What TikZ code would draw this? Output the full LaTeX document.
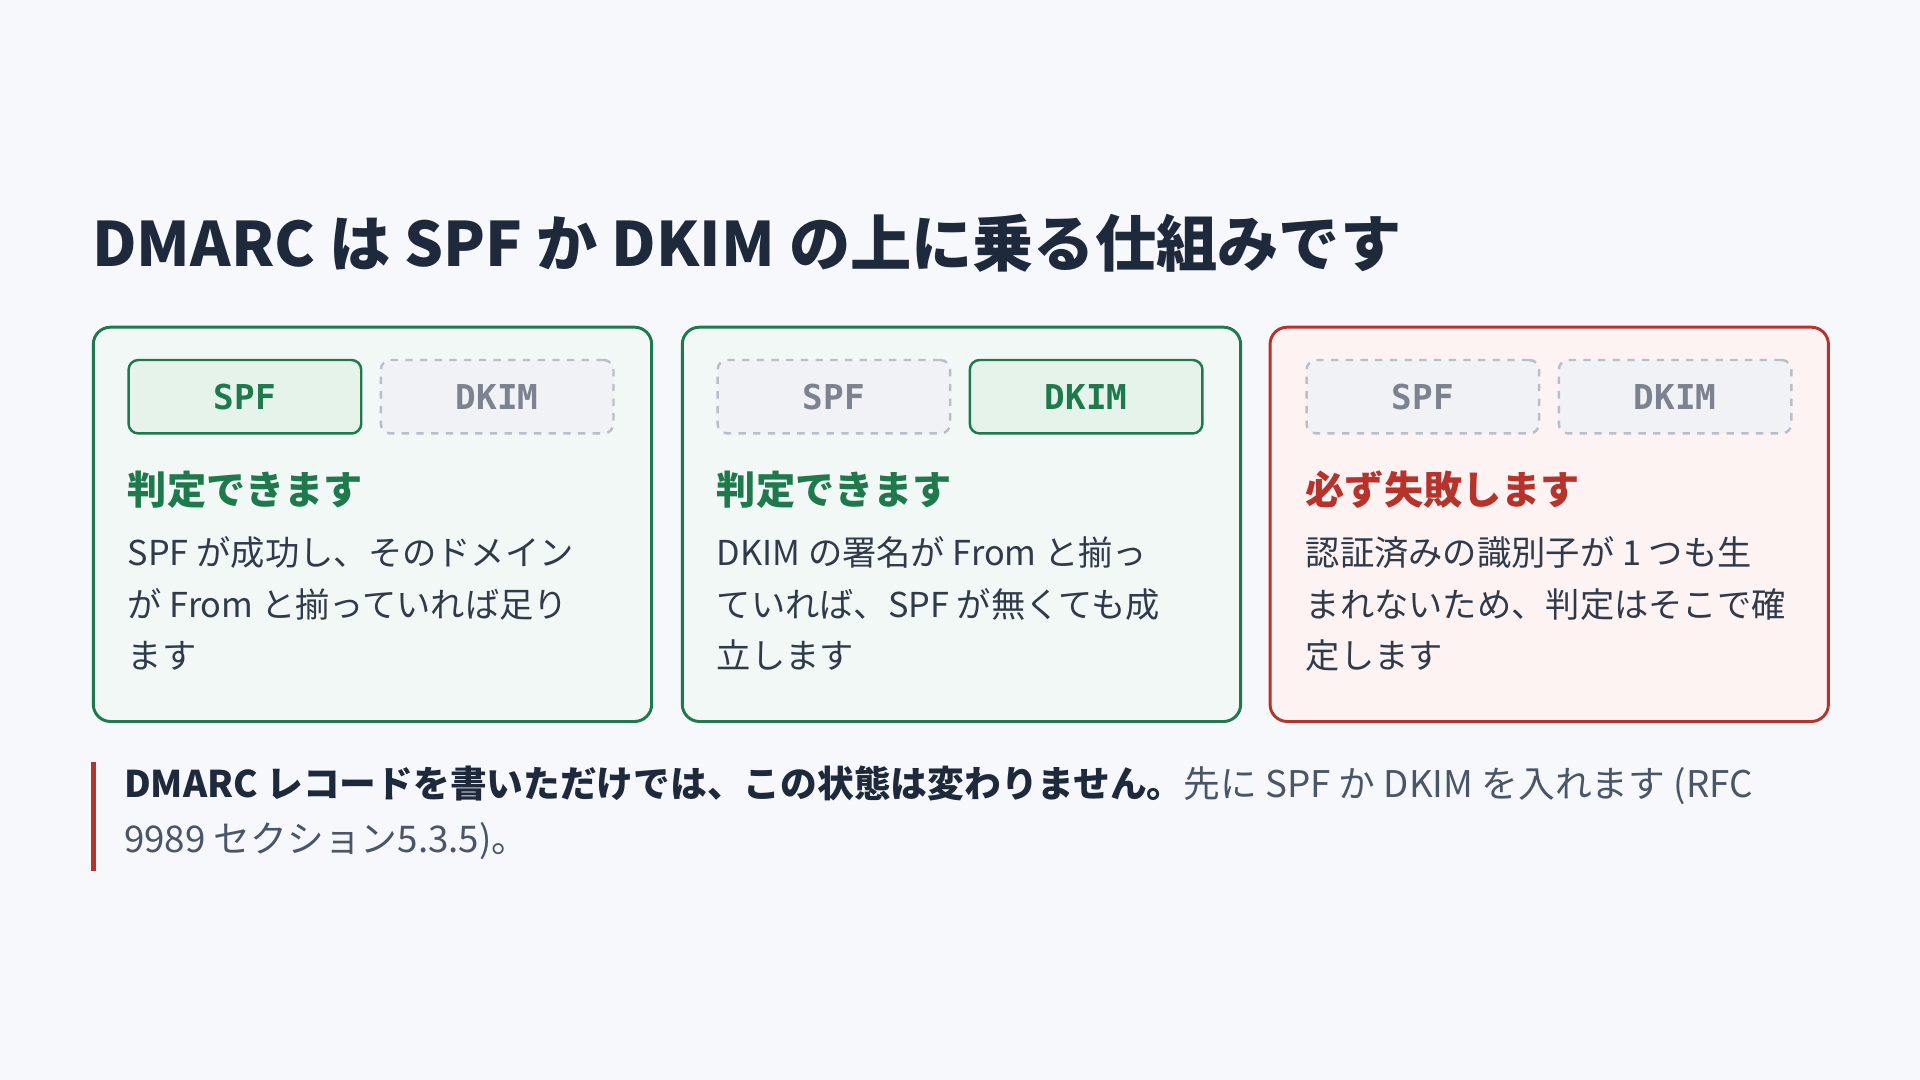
\documentclass[tikz,border=0pt]{standalone}
\usepackage{fontspec}
\setmainfont{Noto Sans CJK JP}
\setmonofont{DejaVu Sans Mono}
\usetikzlibrary{positioning}
\definecolor{bgc}{HTML}{F7F8FB}
\definecolor{okc}{HTML}{1E7A4C}
\definecolor{okfill}{HTML}{F2F8F5}
\definecolor{okbadge}{HTML}{E6F3EA}
\definecolor{ngc}{HTML}{B8322C}
\definecolor{ngfill}{HTML}{FDF3F3}
\definecolor{offc}{HTML}{B9BFC9}
\definecolor{offfill}{HTML}{F1F2F5}
\definecolor{offtxt}{HTML}{7C8290}
\definecolor{inkc}{HTML}{1E293B}
\definecolor{bodyc}{HTML}{2F3A4A}
\definecolor{notec}{HTML}{4A5568}
\tikzset{
  card/.style = {draw, line width=1.2pt, rounded corners=7pt, minimum width=228pt, minimum height=161pt, anchor=north west},
  okcard/.style = {card, draw=okc, fill=okfill},
  ngcard/.style = {card, draw=ngc, fill=ngfill},
  badge/.style = {rounded corners=4pt, line width=1pt, minimum width=95pt, minimum height=30pt, anchor=north west, font=\ttfamily\bfseries\fontsize{14}{14}\selectfont},
  onbadge/.style = {badge, draw=okc, fill=okbadge, text=okc},
  offbadge/.style = {badge, draw=offc, fill=offfill, text=offtxt, dashed},
  head/.style = {anchor=west, inner sep=0pt, font=\bfseries\fontsize{16}{16}\selectfont},
  body/.style = {anchor=north west, inner sep=0pt, align=left, text=bodyc, font=\fontsize{14}{21}\selectfont}
}
\begin{document}
\begin{tikzpicture}[x=0.5pt, y=-0.5pt]
\fill[bgc] (0,0) rectangle (1568,882);
\useasboundingbox (0,0) rectangle (1568,882);
% title
\node[anchor=base west, inner sep=0pt, text=inkc, font=\bfseries\fontsize{25}{25}\selectfont] (title) at (75,218) {DMARC は SPF か DKIM の上に乗る仕組みです};
% cards
\node[okcard] (c1) at (75,266) {};
\node[okcard] (c2) at (556,266) {};
\node[ngcard] (c3) at (1036,266) {};
% badges
\node[onbadge] (c1s) at (104,293) {SPF};
\node[offbadge] (c1d) at (310,293) {DKIM};
\node[offbadge] (c2s) at (585,293) {SPF};
\node[onbadge] (c2d) at (791,293) {DKIM};
\node[offbadge] (c3s) at (1066,293) {SPF};
\node[offbadge] (c3d) at (1272,293) {DKIM};
% headings
\node[head, text=okc] (h1) at (104,400) {判定できます};
\node[head, text=okc] (h2) at (585,400) {判定できます};
\node[head, text=ngc] (h3) at (1066,400) {必ず失敗します};
% bodies
\node[body] (b1) at (104,438) {SPF が成功し、そのドメイン\\が From と揃っていれば足り\\ます};
\node[body] (b2) at (585,438) {DKIM の署名が From と揃っ\\ていれば、SPF が無くても成\\立します};
\node[body] (b3) at (1066,438) {認証済みの識別子が 1 つも生\\まれないため、判定はそこで確\\定します};
% note
\fill[ngc] (74,622) rectangle (78,711);
\node[anchor=north west, inner sep=0pt, align=left, text=notec, font=\fontsize{15}{22.5}\selectfont] (note) at (101,625)
  {{\bfseries\color{inkc}DMARC レコードを書いただけでは、この状態は変わりません。}先に SPF か DKIM を入れます (RFC\\9989 セクション5.3.5)。};
\end{tikzpicture}
\end{document}
